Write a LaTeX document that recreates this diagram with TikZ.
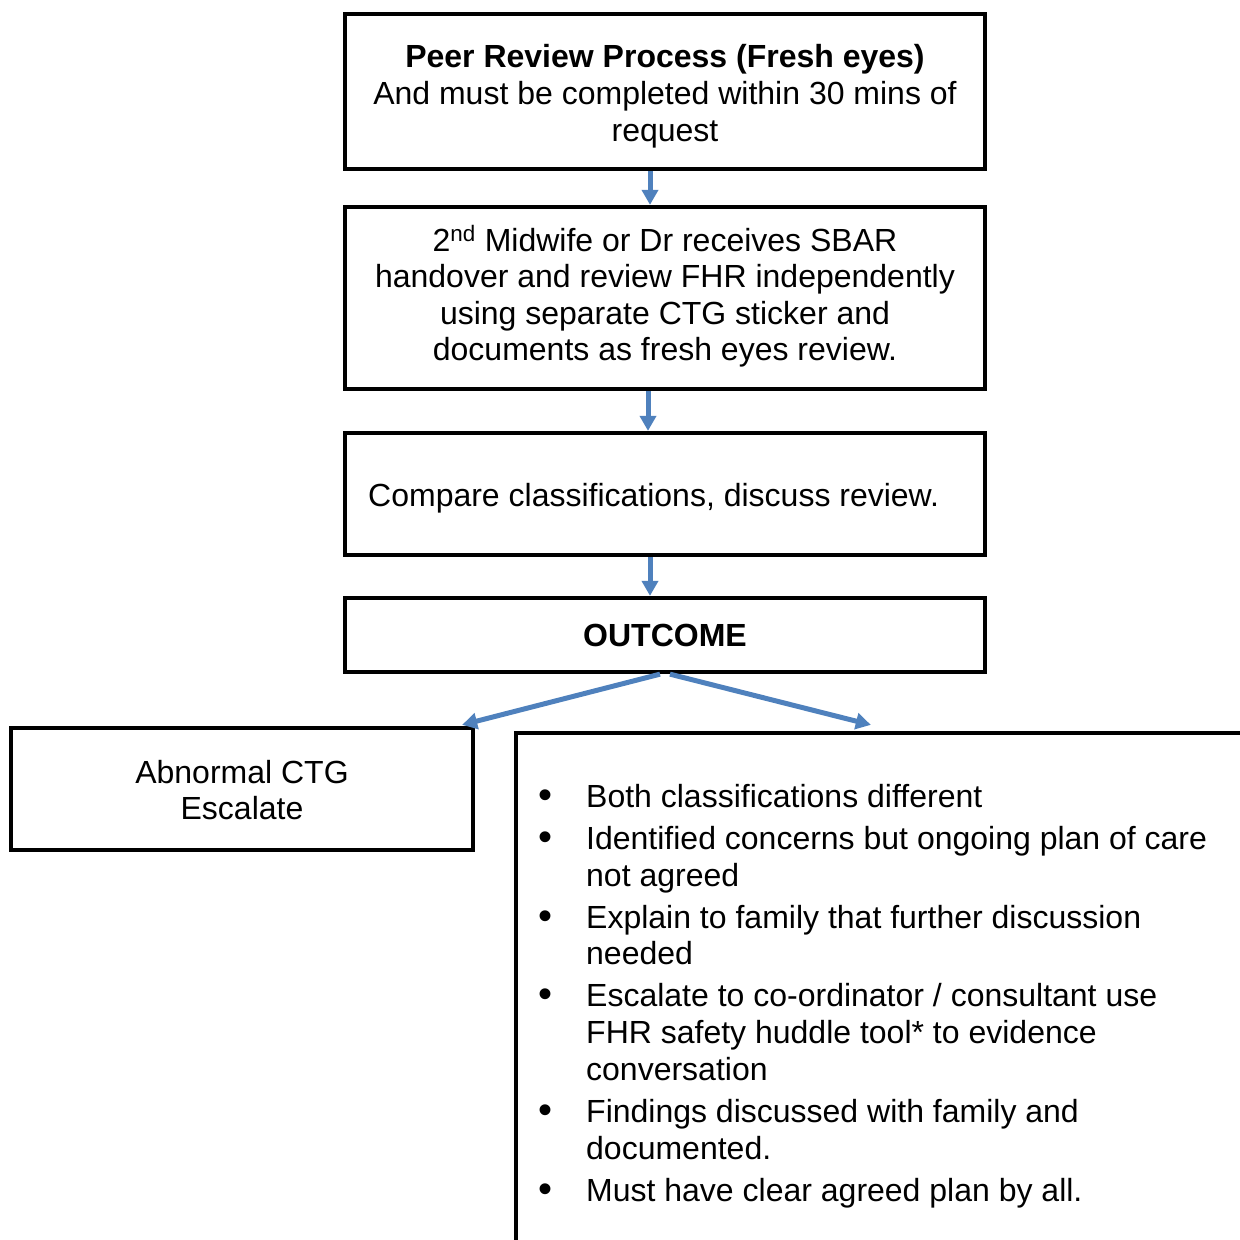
\documentclass[tikz,border=0pt]{standalone}
\usepackage{fontspec}
\setmainfont{Liberation Sans}
\usetikzlibrary{arrows.meta,calc}
\definecolor{arrblue}{HTML}{4F81BD}
\tikzset{
  box/.style={draw=black, line width=4.3pt, inner sep=0pt, rectangle},
  txt/.style={inner sep=0pt, anchor=base, font=\fontsize{32}{37}\selectfont},
  txtl/.style={txt, anchor=base west},
  btxt/.style={txt, font=\fontsize{32}{37}\selectfont\bfseries},
  bul/.style={txt, font=\fontsize{40}{37}\selectfont},
  arr/.style={draw=arrblue, line width=5pt, -{Triangle[width=16pt,length=15pt]}}
}
\begin{document}
\begin{tikzpicture}[x=1pt,y=-1pt]
\useasboundingbox (0,0) rectangle (1240,1240);
\clip (0,0) rectangle (1240,1240);
% boxes
\node[box, minimum width=640pt, minimum height=155pt] (b1) at (665,91.5) {};
\node[box, minimum width=640pt, minimum height=182pt] (b2) at (665,298) {};
\node[box, minimum width=640pt, minimum height=122pt] (b3) at (665,494) {};
\node[box, minimum width=640pt, minimum height=74pt] (b4) at (665,635) {};
\node[box, minimum width=462pt, minimum height=122pt] (b5) at (242,789) {};
\node[box, minimum width=760pt, minimum height=560pt] (b6) at (896,1013) {};
% box 1 text
\node[btxt] (t11) at (665,67) {Peer Review Process (Fresh eyes)};
\node[txt] (t12) at (665,104) {And must be completed within 30 mins of};
\node[txt] (t13) at (665,141) {request};
% box 2 text
\node[txt] (t21) at (665,251) {2\textsuperscript{nd} Midwife or Dr receives SBAR};
\node[txt] (t22) at (665,287.5) {handover and review FHR independently};
\node[txt] (t23) at (665,324) {using separate CTG sticker and};
\node[txt] (t24) at (665,360.5) {documents as fresh eyes review.};
% box 3 text
\node[txtl] (t31) at (368,506) {Compare classifications, discuss review.};
% box 4 text
\node[btxt] (t41) at (665,646) {OUTCOME};
% box 5 text
\node[txt] (t51) at (242,783) {Abnormal CTG};
\node[txt] (t52) at (242,819) {Escalate};
% box 6 bullets
\node[bul] (u1) at (545,808) {•};
\node[txtl] (l1) at (586,807) {Both classifications different};
\node[bul] (u2) at (545,850) {•};
\node[txtl] (l2a) at (586,849) {Identified concerns but ongoing plan of care};
\node[txtl] (l2b) at (586,886) {not agreed};
\node[bul] (u3) at (545,929) {•};
\node[txtl] (l3a) at (586,928) {Explain to family that further discussion};
\node[txtl] (l3b) at (586,964) {needed};
\node[bul] (u4) at (545,1007) {•};
\node[txtl] (l4a) at (586,1006) {Escalate to co-ordinator / consultant use};
\node[txtl] (l4b) at (586,1043) {FHR safety huddle tool* to evidence};
\node[txtl] (l4c) at (586,1080) {conversation};
\node[bul] (u5) at (545,1123) {•};
\node[txtl] (l5a) at (586,1122) {Findings discussed with family and};
\node[txtl] (l5b) at (586,1159) {documented.};
\node[bul] (u6) at (545,1202) {•};
\node[txtl] (l6) at (586,1201) {Must have clear agreed plan by all.};
% arrows
\draw[arr] ([xshift=-15pt]b1.south) -- ([xshift=-15pt]b2.north);
\draw[arr] ([xshift=-17pt]b2.south) -- ([xshift=-17pt]b3.north);
\draw[arr] ([xshift=-15pt]b3.south) -- ([xshift=-15pt]b4.north);
\draw[arr] ([xshift=-5pt]b4.south) -- ($(b5.north east)+(-13,-1)$);
\draw[arr] ([xshift=5pt]b4.south) -- ($(b6.north west)+(357,-6)$);
\end{tikzpicture}
\end{document}
